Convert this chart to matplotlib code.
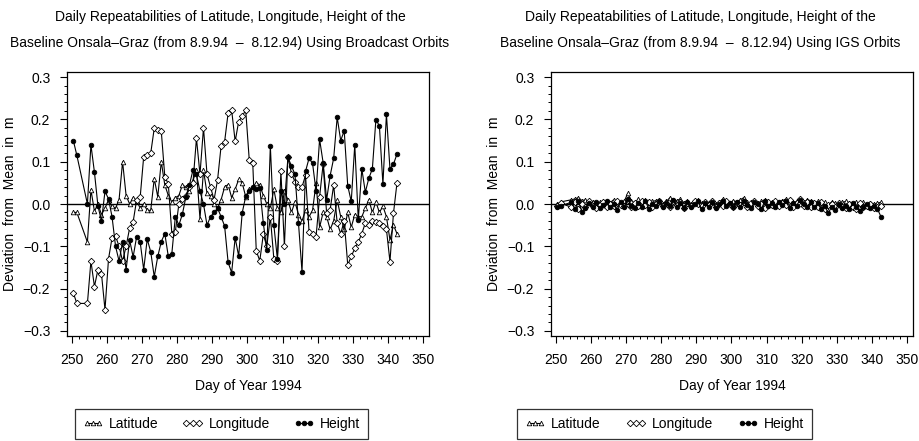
import matplotlib
matplotlib.use("Agg")
import matplotlib.pyplot as plt
from matplotlib.ticker import MultipleLocator
from matplotlib.lines import Line2D

plt.rcParams['font.family'] = ['Liberation Sans', 'DejaVu Sans']

# day of year 1994 (daily solutions, plotted at noon)
days = [250, 251, 254, 255, 256, 257, 258, 259, 260, 261,
        262, 263, 264, 265, 266, 267, 268, 269, 270, 271,
        272, 273, 274, 275, 276, 277, 278, 279, 280, 281,
        282, 283, 284, 285, 286, 287, 288, 289, 290, 291,
        292, 293, 294, 295, 296, 297, 298, 299, 300, 301,
        302, 303, 304, 305, 306, 307, 308, 309, 310, 311,
        312, 313, 314, 315, 316, 317, 318, 319, 320, 321,
        322, 323, 324, 325, 326, 327, 328, 329, 330, 331,
        332, 333, 334, 335, 336, 337, 338, 339, 340, 341, 342]

# broadcast orbits, deviation from mean [m]
lat_brdc = [-0.020, -0.020, -0.090, 0.034, -0.017, 0.000, -0.025, -0.010, 0.010, -0.005,
            -0.010, 0.010, 0.100, 0.020, 0.000, 0.015, 0.008, -0.010, 0.000, -0.015,
            -0.015, 0.060, 0.017, 0.100, 0.045, 0.020, 0.005, 0.015, 0.020, 0.045,
            0.040, 0.030, 0.055, 0.080, -0.035, 0.080, 0.025, 0.020, 0.000, -0.010,
            0.010, 0.040, 0.046, 0.015, 0.035, 0.058, 0.050, 0.017, 0.035, 0.040,
            0.050, 0.045, 0.020, 0.000, -0.010, 0.035, -0.010, -0.020, 0.030, 0.010,
            -0.020, 0.005, -0.025, -0.040, -0.015, -0.030, -0.015, 0.050, -0.055, -0.020,
            -0.030, -0.060, -0.040, 0.010, -0.030, -0.060, -0.020, -0.055, -0.025, -0.030,
            -0.030, -0.010, 0.010, -0.020, 0.005, -0.020, -0.005, -0.030, -0.085, -0.050, -0.070]
lon_brdc = [-0.210, -0.235, -0.235, -0.135, -0.195, -0.155, -0.165, -0.250, -0.130, -0.080,
            -0.076, -0.100, -0.135, -0.100, -0.057, -0.042, 0.010, 0.016, 0.112, 0.116,
            0.120, 0.179, 0.175, 0.172, 0.065, 0.047, -0.070, -0.065, 0.000, 0.012,
            0.020, 0.040, 0.050, 0.155, 0.070, 0.180, 0.070, 0.040, 0.010, 0.057,
            0.137, 0.147, 0.215, 0.222, 0.148, 0.195, 0.207, 0.222, 0.105, 0.097,
            -0.111, -0.134, -0.072, -0.100, -0.030, -0.130, -0.134, 0.077, -0.100, 0.112,
            0.072, 0.053, 0.040, 0.040, 0.068, -0.065, -0.070, -0.077, 0.017, 0.094,
            -0.022, -0.014, 0.045, -0.045, -0.070, -0.040, -0.144, -0.124, -0.105, -0.090,
            -0.070, -0.045, -0.050, -0.040, -0.042, -0.045, -0.053, -0.060, -0.136, -0.022, 0.050]
hgt_brdc = [0.150, 0.115, 0.000, 0.140, 0.075, -0.005, -0.040, 0.030, 0.012, -0.030,
            -0.100, -0.135, -0.090, -0.155, -0.085, -0.125, -0.077, -0.090, -0.155, -0.083,
            -0.113, -0.172, -0.124, -0.089, -0.070, -0.124, -0.117, -0.030, -0.050, -0.024,
            0.017, 0.045, 0.080, 0.070, 0.030, 0.000, -0.050, -0.030, -0.020, -0.010,
            -0.030, -0.052, -0.138, -0.162, -0.080, -0.123, -0.021, 0.018, 0.030, 0.040,
            0.035, 0.038, -0.045, -0.108, 0.137, -0.050, -0.130, 0.030, 0.000, 0.110,
            0.090, 0.070, -0.045, -0.160, 0.077, 0.108, 0.096, 0.030, 0.153, 0.098,
            0.010, 0.067, 0.108, 0.205, 0.150, 0.173, 0.043, 0.006, 0.140, -0.037,
            0.083, 0.028, 0.061, 0.083, 0.199, 0.185, 0.047, 0.212, 0.083, 0.094, 0.118]

# IGS orbits, deviation from mean [m]
lat_igs = [0.000, 0.005, 0.010, 0.012, 0.015, 0.008, 0.010, 0.002, 0.005, 0.000,
           0.004, -0.002, 0.006, 0.003, 0.010, 0.004, 0.000, 0.006, 0.025, 0.008,
           0.002, 0.012, 0.004, 0.010, -0.002, 0.006, 0.008, 0.004, 0.000, 0.006,
           0.015, 0.003, 0.008, 0.012, 0.002, 0.006, 0.000, 0.004, 0.010, 0.002,
           0.005, 0.003, 0.008, 0.000, 0.004, 0.012, 0.006, 0.002, 0.008, 0.005,
           0.010, 0.015, 0.004, 0.000, 0.008, 0.003, 0.006, 0.010, 0.002, 0.005,
           0.000, 0.004, 0.008, 0.012, 0.005, 0.002, 0.006, 0.000, 0.004, 0.010,
           0.008, 0.002, 0.006, 0.000, 0.004, -0.002, 0.005, 0.002, 0.000, 0.004,
           0.006, 0.002, -0.003, 0.004, 0.000, 0.005, -0.002, 0.003, 0.000, 0.002, 0.004]
lon_igs = [-0.005, 0.002, -0.008, 0.004, -0.012, 0.000, -0.006, 0.008, -0.004, -0.010,
           -0.003, 0.004, -0.008, 0.000, -0.005, 0.006, -0.002, -0.004, 0.010, -0.006,
           0.002, -0.005, 0.008, -0.003, 0.004, -0.008, 0.000, 0.006, -0.004, 0.002,
           -0.006, 0.008, -0.002, 0.004, -0.010, 0.002, -0.004, 0.006, 0.000, -0.005,
           0.004, -0.003, 0.006, -0.008, 0.002, -0.004, 0.008, 0.000, -0.006, 0.003,
           -0.002, 0.005, -0.006, 0.002, 0.008, -0.004, 0.000, -0.010, 0.004, -0.002,
           0.006, -0.005, 0.003, -0.002, 0.010, -0.006, 0.002, 0.012, -0.004, 0.004,
           -0.006, 0.002, -0.008, 0.004, -0.012, -0.003, 0.000, -0.008, 0.002, -0.006,
           -0.010, 0.000, -0.006, -0.012, 0.002, -0.008, -0.004, 0.000, -0.010, -0.006, -0.004]
hgt_igs = [-0.008, -0.004, 0.004, -0.012, 0.006, -0.018, -0.010, 0.002, -0.006, 0.004,
           -0.010, -0.002, 0.006, -0.008, 0.000, -0.014, 0.004, -0.006, 0.012, -0.004,
           -0.010, 0.002, -0.006, 0.008, -0.012, 0.000, -0.004, 0.006, -0.008, 0.002,
           -0.004, 0.010, -0.006, 0.002, -0.010, 0.004, -0.008, 0.000, 0.006, -0.012,
           0.002, -0.006, 0.004, -0.010, 0.000, 0.008, -0.004, 0.002, -0.008, 0.004,
           -0.006, 0.006, -0.002, -0.010, 0.004, 0.000, -0.012, 0.008, -0.004, 0.002,
           -0.008, 0.004, -0.002, 0.006, -0.010, 0.002, -0.004, 0.010, 0.000, -0.006,
           0.004, -0.008, 0.002, -0.012, -0.004, -0.022, -0.006, -0.014, 0.000, -0.010,
           -0.004, -0.012, 0.002, -0.008, -0.016, -0.006, 0.000, -0.010, -0.004, -0.012, -0.030]

title_l1 = "Daily Repeatabilities of Latitude, Longitude, Height of the"
title_brdc = "Baseline Onsala\u2013Graz (from 8.9.94  \u2013  8.12.94) Using Broadcast Orbits"
title_igs = "Baseline Onsala\u2013Graz (from 8.9.94  \u2013  8.12.94) Using IGS Orbits"

styles = {
    "Latitude": dict(marker="^", mfc="white"),
    "Longitude": dict(marker="D", mfc="white"),
    "Height": dict(marker="o", mfc="black"),
}

fs = 10
W, H = 920, 441
fig = plt.figure(figsize=(W / 100, H / 100), dpi=100)


def panel(left_px, title2, title_x, lat, lon, hgt, leg_box):
    ax = fig.add_axes([left_px / W, 1 - 336 / H, 362 / W, 264 / H])
    x = [d + 0.5 for d in days]
    for name, vals in (("Latitude", lat), ("Longitude", lon), ("Height", hgt)):
        ax.plot(x, vals, color="black", lw=0.8, ms=3.3, mec="black", mew=0.6,
                **styles[name])
    ax.axhline(0, color="black", lw=1.0, zorder=0)
    ax.set_xlim(248.7, 351.6)
    ax.set_ylim(-0.312, 0.312)
    ax.xaxis.set_major_locator(MultipleLocator(10))
    ax.xaxis.set_minor_locator(MultipleLocator(2))
    ax.yaxis.set_major_locator(MultipleLocator(0.1))
    ax.yaxis.set_minor_locator(MultipleLocator(0.02))
    ax.yaxis.set_major_formatter(lambda v, p: f"{v:.1f}".replace("-", "\u2212"))
    ax.tick_params(which="major", length=5, width=0.8, labelsize=fs, pad=7)
    ax.tick_params(which="minor", length=2.5, width=0.7)
    for s in ax.spines.values():
        s.set_linewidth(0.9)
    ax.set_xlabel("Day of Year 1994", fontsize=fs, labelpad=9)
    ax.set_ylabel("Deviation  from  Mean  in  m", fontsize=fs)
    ax.yaxis.set_label_coords(-0.138, 0.5)
    fig.text(title_x / W, 1 - 17 / H, title_l1, ha="center", va="center", fontsize=fs)
    fig.text(title_x / W, 1 - 43 / H, title2, ha="center", va="center", fontsize=fs)

    handles = [Line2D([], [], color="black", lw=0.8, ms=3.3, mec="black", mew=0.6,
                      **styles[n]) for n in styles]
    leg = ax.legend(handles, list(styles), loc="center", bbox_to_anchor=leg_box,
                    mode="expand", ncol=3, numpoints=3, frameon=True, fancybox=False,
                    fontsize=fs, handlelength=1.5, handletextpad=0.4,
                    borderpad=0.55, borderaxespad=0, edgecolor="black")
    leg.get_frame().set_linewidth(0.9)
    return ax


panel(67, title_brdc, 230, lat_brdc, lon_brdc, hgt_brdc, (0.022, -0.333, 0.809, 0.0))
panel(551, title_igs, 700, lat_igs, lon_igs, hgt_igs, (-0.094, -0.333, 0.815, 0.0))

fig.savefig("out.png", dpi=100)
